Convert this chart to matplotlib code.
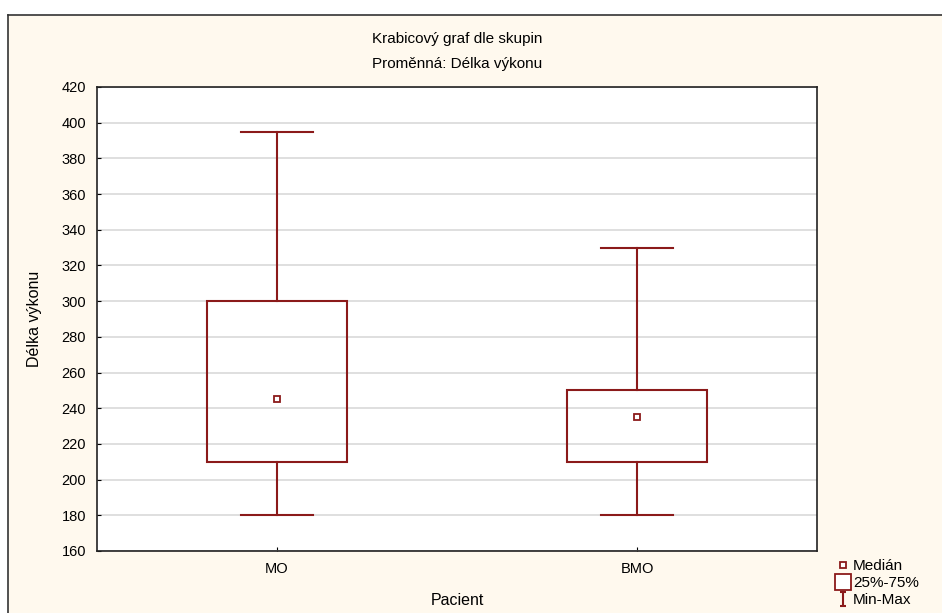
import matplotlib.pyplot as plt
from matplotlib.lines import Line2D
from matplotlib.path import Path
from matplotlib.patches import Rectangle

plt.rcParams['font.family'] = ['Liberation Sans', 'DejaVu Sans']

# Data
groups = ['MO', 'BMO']
mins = [180, 180]
q1 = [210, 210]
medians = [245, 235]
q3 = [300, 250]
maxs = [395, 330]

BOX_COLOR = '#8b1a1a'
BG_COLOR = '#fff9ee'
BOX_W = 0.39
CAP_W = 0.2

fig = plt.figure(figsize=(9.42, 6.13), dpi=100, facecolor='white')

# Beige panel with black top/left border
fig.patches.append(Rectangle((8 / 942, 0), 1, 1 - 15 / 613, transform=fig.transFigure,
                             facecolor=BG_COLOR, edgecolor='none', zorder=-2))
fig.add_artist(Line2D([8 / 942, 1], [1 - 15 / 613] * 2, transform=fig.transFigure, color='#333333', lw=1.2))
fig.add_artist(Line2D([8 / 942] * 2, [0, 1 - 15 / 613], transform=fig.transFigure, color='#333333', lw=1.2))

ax = fig.add_axes([97 / 942, 1 - 551 / 613, 720 / 942, 464 / 613])
ax.set_facecolor('white')

positions = list(range(1, len(groups) + 1))
for x, lo, a, m, b, hi in zip(positions, mins, q1, medians, q3, maxs):
    ax.add_patch(Rectangle((x - BOX_W / 2, a), BOX_W, b - a, facecolor='none',
                           edgecolor=BOX_COLOR, lw=1.5, zorder=3))
    ax.plot([x, x], [b, hi], color=BOX_COLOR, lw=1.5, zorder=3)
    ax.plot([x, x], [lo, a], color=BOX_COLOR, lw=1.5, zorder=3)
    ax.plot([x - CAP_W / 2, x + CAP_W / 2], [hi, hi], color=BOX_COLOR, lw=1.5, zorder=3)
    ax.plot([x - CAP_W / 2, x + CAP_W / 2], [lo, lo], color=BOX_COLOR, lw=1.5, zorder=3)
    ax.plot(x, m, marker='s', ms=4, mfc='white', mec=BOX_COLOR, mew=1.3, zorder=4)

ax.set_xlim(0.5, len(groups) + 0.5)
ax.set_ylim(160, 420)
ax.set_yticks(range(160, 421, 20))
ax.set_xticks(positions)
ax.set_xticklabels(groups)
ax.yaxis.grid(True, color='#d9d9d9', lw=1.2)
ax.set_axisbelow(True)
ax.tick_params(direction='in', length=3, labelsize=10.5, pad=8)
for s in ax.spines.values():
    s.set_color('#222222')
    s.set_linewidth(1.2)

ax.set_xlabel('Pacient', fontsize=11.5, labelpad=12)
ax.set_ylabel('Délka výkonu', fontsize=11.5, labelpad=14)
ax.set_title('Krabicový graf dle skupin\nProměnná: Délka výkonu', fontsize=11,
             linespacing=2.0, pad=14)

# Legend
i_path = Path([(-0.5, 1), (0.5, 1), (0, 1), (0, -1), (-0.5, -1), (0.5, -1)],
              [Path.MOVETO, Path.LINETO, Path.MOVETO, Path.LINETO, Path.MOVETO, Path.LINETO])
handles = [
    Line2D([], [], ls='none', marker='s', ms=4, mfc='white', mec=BOX_COLOR, mew=1.3),
    Line2D([], [], ls='none', marker='s', ms=11, mfc='white', mec=BOX_COLOR, mew=1.3),
    Line2D([], [], ls='none', marker=i_path, ms=10, mfc='none', mec=BOX_COLOR, mew=1.5),
]
fig.legend(handles, ['Medián', '25%-75%', 'Min-Max'], loc='lower left',
           bbox_to_anchor=(828 / 942, -0.008), frameon=False, fontsize=11,
           handlelength=0.6, handletextpad=0.35, labelspacing=0.2, borderpad=0.2)

fig.savefig('out.png', dpi=100, facecolor=fig.get_facecolor())
